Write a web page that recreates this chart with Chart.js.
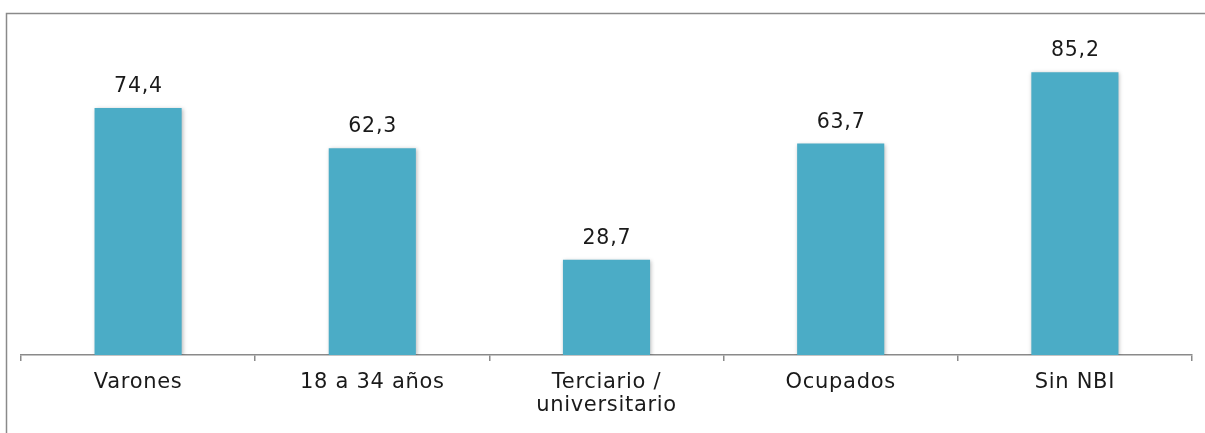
<!DOCTYPE html>
<html>
<head>
<meta charset="utf-8">
<script src="https://cdn.jsdelivr.net/npm/chart.js@4.4.1/dist/chart.umd.min.js"></script>
<style>
  html, body { margin: 0; padding: 0; background: #fff; }
  #wrap { position: relative; width: 1205px; height: 433px; }
</style>
</head>
<body>
<div id="wrap"><canvas id="c"></canvas></div>
<script>
const categories = ["Varones", "18 a 34 años", ["Terciario /", "universitario"], "Ocupados", "Sin NBI"];
const values = [74.4, 62.3, 28.7, 63.7, 85.2];
const yMin = 0;
const yMax = 100;

const FONT = "'DejaVu Sans', sans-serif";

const spacingPlugin = {
  id: 'spacing',
  beforeUpdate(chart) { chart.ctx.letterSpacing = '0.7px'; },
  beforeDraw(chart) { chart.ctx.letterSpacing = '0.7px'; }
};

const framePlugin = {
  id: 'frame',
  beforeDraw(chart) {
    const ctx = chart.ctx;
    ctx.save();
    ctx.strokeStyle = '#8a8a8a';
    ctx.lineWidth = 1.5;
    ctx.beginPath();
    ctx.moveTo(6.5, 440);
    ctx.lineTo(6.5, 13.5);
    ctx.lineTo(1210, 13.5);
    ctx.stroke();
    ctx.restore();
  }
};

const shadowPlugin = {
  id: 'barShadow',
  beforeDatasetsDraw(chart) {
    const ctx = chart.ctx;
    ctx.save();
    ctx.shadowColor = 'rgba(0,0,0,0.28)';
    ctx.shadowBlur = 4;
    ctx.shadowOffsetX = 1;
    ctx.shadowOffsetY = 1;
  },
  afterDatasetsDraw(chart) {
    chart.ctx.restore();
  }
};

const labelPlugin = {
  id: 'valueLabels',
  afterDatasetsDraw(chart) {
    const ctx = chart.ctx;
    const meta = chart.getDatasetMeta(0);
    ctx.save();
    ctx.letterSpacing = '0.8px';
    ctx.font = '20.5px ' + FONT;
    ctx.fillStyle = '#1a1a1a';
    ctx.textAlign = 'center';
    ctx.textBaseline = 'alphabetic';
    meta.data.forEach((bar, i) => {
      const txt = values[i].toFixed(1).replace('.', ',');
      ctx.fillText(txt, bar.x + 0.4, bar.y - 16);
    });
    ctx.restore();
  }
};

new Chart(document.getElementById('c'), {
  type: 'bar',
  data: {
    labels: categories,
    datasets: [{
      data: values,
      backgroundColor: '#4BACC6',
      borderWidth: 0,
      barPercentage: 0.372,
      categoryPercentage: 1.0
    }]
  },
  options: {
    responsive: true,
    maintainAspectRatio: false,
    animation: false,
    devicePixelRatio: 1,
    layout: { padding: { left: 21, right: 13, top: 23, bottom: 0 } },
    plugins: {
      legend: { display: false },
      tooltip: { enabled: false }
    },
    scales: {
      x: {
        grid: {
          display: true,
          offset: true,
          drawOnChartArea: false,
          drawTicks: true,
          tickLength: 6,
          color: '#8a8a8a',
          lineWidth: 1.5
        },
        border: { display: true, color: '#8a8a8a', width: 1.5 },
        ticks: {
          color: '#1a1a1a',
          font: { family: FONT, size: 21, lineHeight: 1.1 },
          padding: 10,
          maxRotation: 0,
          autoSkip: false
        },
        afterFit(scale) { scale.height = 78; }
      },
      y: {
        display: false,
        min: yMin,
        max: yMax
      }
    }
  },
  plugins: [spacingPlugin, framePlugin, shadowPlugin, labelPlugin]
});
</script>
</body>
</html>
